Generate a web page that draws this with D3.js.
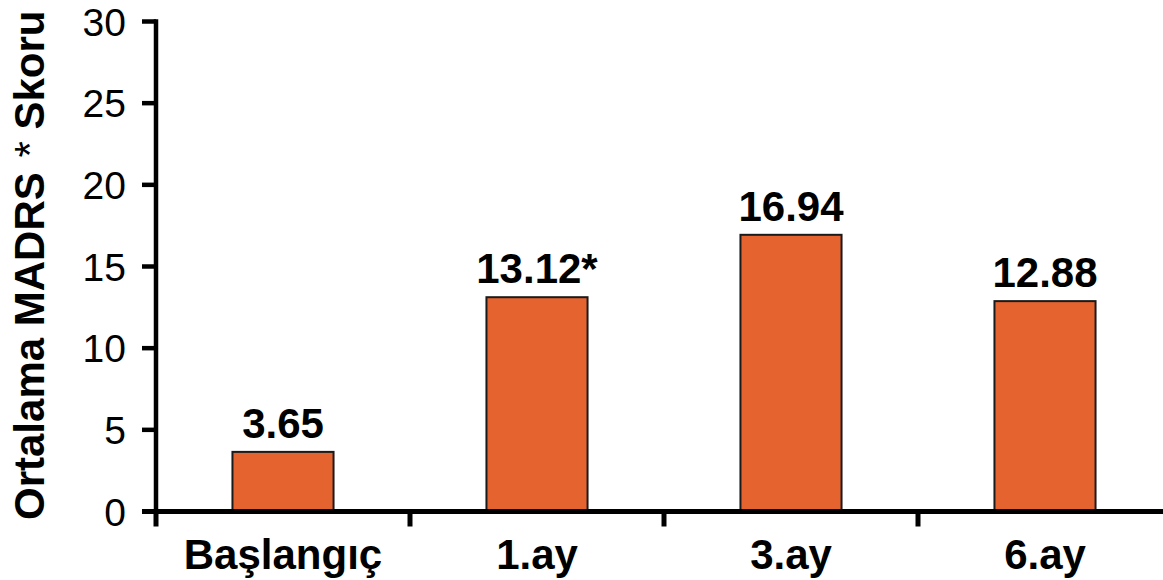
<!DOCTYPE html>
<html>
<head>
<meta charset="utf-8">
<script src="https://cdn.jsdelivr.net/npm/d3@7/dist/d3.min.js"></script>
<style>
  html, body { margin: 0; padding: 0; background: #fff; }
  svg { display: block; font-family: "Liberation Sans", Arial, sans-serif; }
</style>
</head>
<body>
<svg id="chart" width="1163" height="580"></svg>
<script>
// Mean MADRS score at each visit
const categories = ["Başlangıç", "1.ay", "3.ay", "6.ay"];
const values = [3.65, 13.12, 16.94, 12.88];
const valueLabels = ["3.65", "13.12*", "16.94", "12.88"];
const yTicks = [0, 5, 10, 15, 20, 25, 30];
const yTitleParts = ["Ortalama MADRS ", "*", " Skoru"];

const svg = d3.select("#chart");
const W = 1163;

const plotLeft = 156, plotRight = 1172, plotTop = 21.5, plotBottom = 511.5;

const x = d3.scaleBand()
  .domain(categories)
  .range([plotLeft, plotRight])
  .paddingInner(0.602)
  .paddingOuter(0.301);

const y = d3.scaleLinear().domain([0, 30]).range([plotBottom, plotTop]);

const step = x.step();
const axisW = 4.5;

// Bars
svg.append("g").selectAll("rect")
  .data(values)
  .join("rect")
  .attr("x", (d, i) => x(categories[i]))
  .attr("y", d => y(d))
  .attr("width", x.bandwidth())
  .attr("height", d => y(0) - y(d))
  .attr("fill", "#E5632F")
  .attr("stroke", "#1a1a1a")
  .attr("stroke-width", 2);

// Value labels
svg.append("g").selectAll("text")
  .data(values)
  .join("text")
  .attr("x", (d, i) => x(categories[i]) + x.bandwidth() / 2)
  .attr("y", d => y(d) - 14)
  .attr("text-anchor", "middle")
  .attr("font-size", 42)
  .attr("font-weight", "bold")
  .attr("fill", "#000")
  .text((d, i) => valueLabels[i]);

// Y axis
const yAxis = svg.append("g");
yAxis.append("line")
  .attr("x1", plotLeft).attr("x2", plotLeft)
  .attr("y1", y(30) - axisW / 2).attr("y2", y(0))
  .attr("stroke", "#000").attr("stroke-width", axisW);
yAxis.selectAll("line.tick")
  .data(yTicks)
  .join("line")
  .attr("class", "tick")
  .attr("x1", plotLeft - 14).attr("x2", plotLeft)
  .attr("y1", d => y(d)).attr("y2", d => y(d))
  .attr("stroke", "#000").attr("stroke-width", axisW);
yAxis.selectAll("text")
  .data(yTicks)
  .join("text")
  .attr("x", plotLeft - 30)
  .attr("y", d => y(d))
  .attr("dy", "0.36em")
  .attr("text-anchor", "end")
  .attr("font-size", 39)
  .attr("fill", "#000")
  .text(d => d);

// X axis
const xAxis = svg.append("g");
xAxis.append("line")
  .attr("x1", plotLeft - 14).attr("x2", W)
  .attr("y1", y(0)).attr("y2", y(0))
  .attr("stroke", "#000").attr("stroke-width", axisW + 0.5);
const boundaries = categories.map(c => x(c) + x.bandwidth() / 2 - step / 2);
xAxis.selectAll("line.tick")
  .data(boundaries)
  .join("line")
  .attr("class", "tick")
  .attr("x1", d => d).attr("x2", d => d)
  .attr("y1", y(0)).attr("y2", y(0) + 15)
  .attr("stroke", "#000").attr("stroke-width", axisW + 0.5);
xAxis.selectAll("text")
  .data(categories)
  .join("text")
  .attr("x", d => x(d) + x.bandwidth() / 2)
  .attr("y", 569)
  .attr("text-anchor", "middle")
  .attr("font-size", 42)
  .attr("font-weight", "bold")
  .attr("fill", "#000")
  .text(d => d);

// Y axis title (asterisk set in regular weight)
const title = svg.append("text")
  .attr("transform", "translate(44, 520) rotate(-90)")
  .attr("text-anchor", "start")
  .attr("font-size", 42)
  .attr("font-weight", "bold")
  .attr("fill", "#000")
  .style("white-space", "pre");
title.append("tspan").text(yTitleParts[0]);
title.append("tspan").attr("dx", 3).attr("font-weight", "normal").text(yTitleParts[1]);
title.append("tspan").text(yTitleParts[2]);
</script>
</body>
</html>
